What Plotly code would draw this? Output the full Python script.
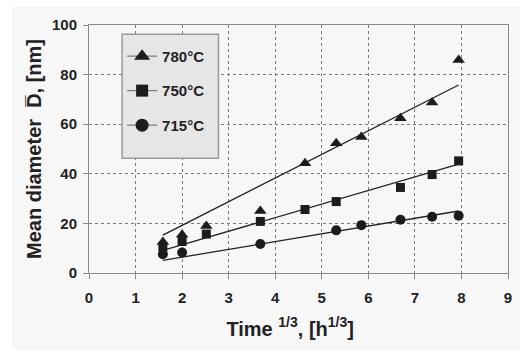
import plotly.graph_objects as go

# cube root of annealing time [h^1/3]
x780 = [1.587, 2.0, 2.52, 3.68, 4.64, 5.31, 5.85, 6.69, 7.37, 7.94]
d780 = [12.5, 15.4, 19.0, 25.0, 44.3, 52.3, 54.8, 62.4, 68.7, 85.9]

x750 = [1.587, 2.0, 2.52, 3.68, 4.64, 5.31, 6.69, 7.37, 7.94]
d750 = [10.7, 12.7, 15.7, 20.8, 25.6, 28.8, 34.5, 39.7, 45.2]

x715 = [1.587, 2.0, 3.68, 5.31, 5.85, 6.69, 7.37, 7.94]
d715 = [7.6, 8.3, 11.7, 17.2, 19.3, 21.5, 22.7, 23.1]

# linear fit lines (end points)
fit_x = [1.587, 7.94]
fit780 = [15.3, 75.8]
fit750 = [9.1, 43.9]
fit715 = [5.1, 25.0]

x_ticks = list(range(0, 10))
y_ticks = [0, 20, 40, 60, 80, 100]

FONT = "Liberation Sans, Arial, sans-serif"
MK = "#1c1c1c"
BG = "#f7f7f7"

fig = go.Figure()

series = [
    ("780°C", x780, d780, fit780, "triangle-up", 11),
    ("750°C", x750, d750, fit750, "square", 9),
    ("715°C", x715, d715, fit715, "circle", 10),
]

for i, (name, xs, ys, fit, sym, sz) in enumerate(series):
    fig.add_trace(go.Scatter(
        x=fit_x, y=fit, mode="lines", name=name,
        line=dict(color="#222222", width=1.3),
        showlegend=False, hoverinfo="skip",
    ))
    fig.add_trace(go.Scatter(
        x=xs, y=ys, mode="markers", name=name,
        marker=dict(symbol=sym, size=sz, color=MK, line=dict(width=0)),
        showlegend=False,
    ))
    # legend entry: line + symbol
    fig.add_trace(go.Scatter(
        x=[None], y=[None], mode="lines+markers", name=name,
        legendgroup=f"g{i}",
        line=dict(color="#777777", width=1.2),
        marker=dict(symbol=sym, size=sz + 3, color=MK, line=dict(width=0)),
        showlegend=True,
    ))

axis_common = dict(
    showline=True, linecolor="#8a8a8a", linewidth=1, mirror=True,
    showgrid=True, gridcolor="#7a7a7a", griddash="dot", gridwidth=1,
    zeroline=False, ticks="outside", ticklen=5, tickcolor="#8a8a8a",
    tickfont=dict(family=FONT, size=15, color="#222222", weight=700),
)

fig.update_layout(
    width=520, height=350,
    margin=dict(l=89, r=8, t=25, b=77),
    paper_bgcolor="white",
    plot_bgcolor=BG,
    font=dict(family=FONT, color="#222222"),
    xaxis=dict(
        range=[0, 9], tickvals=x_ticks, ticklabelstandoff=6,
        title=dict(text="Time <sup>1/3</sup>, [h<sup>1/3</sup>]&nbsp;&nbsp;&nbsp;",
                   font=dict(size=20, weight=700), standoff=16),
        **axis_common,
    ),
    yaxis=dict(
        range=[0, 100], tickvals=y_ticks, ticklabelstandoff=3,
        title=dict(text="Mean diameter  D\u0305, [nm]",
                   font=dict(size=20, weight=700), standoff=4),
        **axis_common,
    ),
    legend=dict(
        x=0.079, y=0.94, xanchor="left", yanchor="top",
        bgcolor="rgba(0,0,0,0)", borderwidth=0,
        font=dict(family=FONT, size=15, color="#222222", weight=700),
        tracegroupgap=12, itemwidth=30,
    ),
    shapes=[
        dict(type="rect", xref="paper", yref="paper",
             x0=-0.185, x1=1.05, y0=-0.45, y1=1.073,
             fillcolor=BG, line=dict(width=0), layer="below"),
        dict(type="rect", xref="paper", yref="paper",
             x0=0.079, x1=0.309, y0=0.463, y1=0.9625,
             fillcolor="#e6e6e6", line=dict(color="#9a9a9a", width=1.5),
             layer="above"),
    ],
)

fig.write_html("out.html")
